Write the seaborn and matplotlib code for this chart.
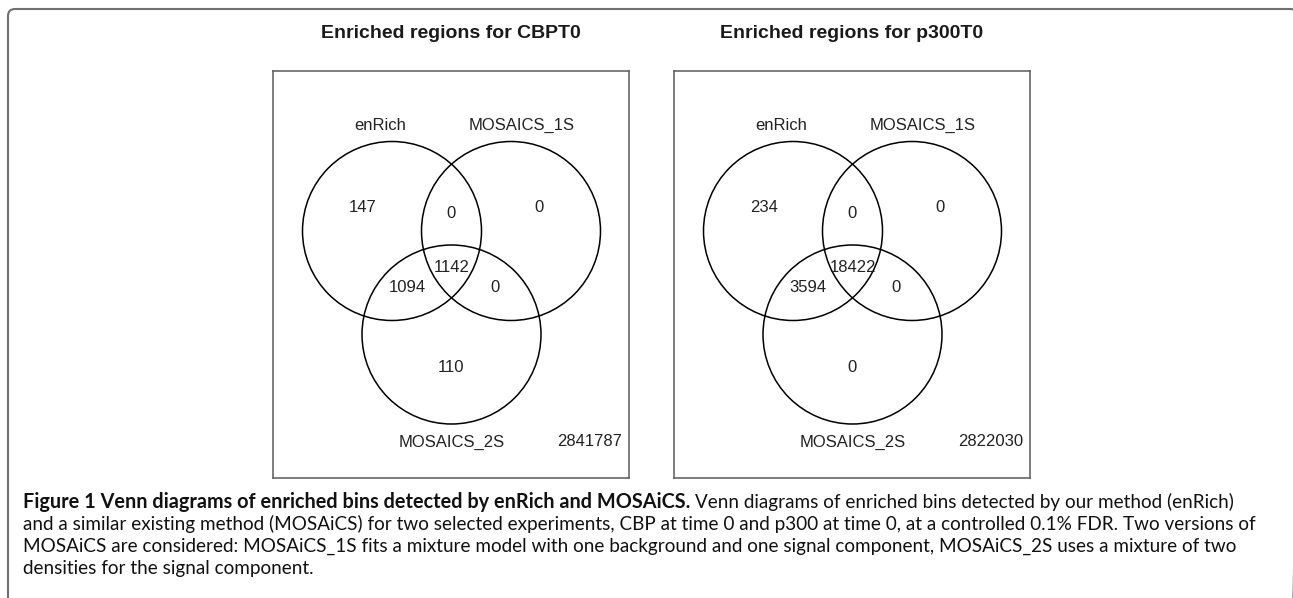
import matplotlib
matplotlib.use("Agg")
import matplotlib.pyplot as plt
from matplotlib.patches import Circle, FancyBboxPatch
import seaborn as sns

sns.set_theme(style="white")
plt.rcParams["font.family"] = ["Liberation Sans", "DejaVu Sans"]

# data
panel_titles = ["Enriched regions for CBPT0", "Enriched regions for p300T0"]
set_labels = ["enRich", "MOSAICS_1S", "MOSAICS_2S"]
regions = ["A", "AB", "B", "ABC", "AC", "BC", "C"]
cbpt0_counts = [147, 0, 0, 1142, 1094, 0, 110]
p300t0_counts = [234, 0, 0, 18422, 3594, 0, 0]
outside_counts = [2841787, 2822030]

caption_bold = "Figure 1 Venn diagrams of enriched bins detected by enRich and MOSAiCS."
caption_lines = [
    "Venn diagrams of enriched bins detected by our method (enRich)",
    "and a similar existing method (MOSAiCS) for two selected experiments, CBP at time 0 and p300 at time 0, at a controlled 0.1% FDR. Two versions of",
    "MOSAiCS are considered: MOSAiCS_1S fits a mixture model with one background and one signal component, MOSAiCS_2S uses a mixture of two",
    "densities for the signal component.",
]

# layout (pixels)
W, H = 1293, 598
box_w, box_h, box_top = 356, 407, 71
box_lefts = [273, 674]
centres = [(119, 160), (238, 160), (178.5, 263.5)]
radius = 89.5
region_xy = {"A": (90, 137), "AB": (178, 142), "B": (266, 137), "ABC": (179, 197),
             "AC": (134, 217), "BC": (222, 217), "C": (178, 296)}
label_xy = [(107, 54), (249, 54), (179, 371)]
total_xy = (317, 371)

fig = plt.figure(figsize=(W / 100, H / 100), dpi=100)
bg = fig.add_axes([0, 0, 1, 1])
bg.set_xlim(0, W)
bg.set_ylim(H, 0)
bg.axis("off")
bg.add_patch(FancyBboxPatch((8, 9), 1289, 640, boxstyle="round,pad=0,rounding_size=7",
                            fill=False, ec="#707070", lw=1.5))

for left, counts, total, title in zip(box_lefts, [cbpt0_counts, p300t0_counts], outside_counts, panel_titles):
    ax = fig.add_axes([left / W, 1 - (box_top + box_h) / H, box_w / W, box_h / H])
    ax.set_xlim(0, box_w)
    ax.set_ylim(box_h, 0)
    ax.set_xticks([])
    ax.set_yticks([])
    for sp in ax.spines.values():
        sp.set_visible(True)
        sp.set_color("#5a5a5a")
        sp.set_linewidth(1.1)
    for c in centres:
        ax.add_patch(Circle(c, radius, fill=False, ec="black", lw=1.1))
    for key, n in zip(regions, counts):
        x, y = region_xy[key]
        ax.text(x, y, str(n), ha="center", va="center", fontsize=12, color="#222222")
    for (x, y), lab in zip(label_xy, set_labels):
        ax.text(x, y, lab, ha="center", va="center", fontsize=12, color="#222222")
    ax.text(total_xy[0], total_xy[1], str(total), ha="center", va="center", fontsize=12, color="#222222")
    bg.text(left + box_w / 2, 33, title, ha="center", va="center", fontsize=14,
            fontweight="bold", color="#1a1a1a")

# caption
cap_font = ["Lato", "DejaVu Sans"]
baselines = [508, 530, 552, 574]
t = bg.text(23, baselines[0], caption_bold, family=cap_font, fontsize=14.3, fontweight="bold",
            va="baseline", ha="left", color="#111111")
fig.canvas.draw()
x_end = t.get_window_extent().x1
bg.text(x_end + 5, baselines[0], caption_lines[0], family=cap_font, fontsize=13.6,
        va="baseline", ha="left", color="#111111")
for line, yb in zip(caption_lines[1:], baselines[1:]):
    bg.text(23, yb, line, family=cap_font, fontsize=13.6, va="baseline", ha="left", color="#111111")

fig.savefig("out.png", dpi=100)
